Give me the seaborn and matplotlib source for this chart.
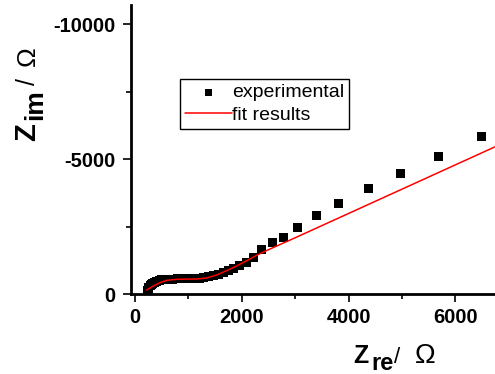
import pandas as pd
import matplotlib
matplotlib.use('Agg')
import matplotlib.pyplot as plt
import seaborn as sns
from matplotlib.ticker import MultipleLocator

# experimental impedance points (ohm)
exp_re = [230, 245, 262, 282, 305, 332, 365, 405, 450, 500, 560, 630, 710, 800,
          900, 1000, 1100, 1200, 1290, 1380, 1470, 1560, 1650, 1750, 1850, 1960,
          2080, 2210, 2378, 2584, 2772, 3034, 3390, 3820, 4382, 4981, 5693, 6498]
exp_im = [-130, -190, -245, -300, -350, -395, -435, -470, -500, -522, -540, -550,
          -555, -558, -560, -562, -570, -585, -610, -645, -690, -740, -800, -870,
          -950, -1050, -1180, -1370, -1630, -1889, -2111, -2481, -2889, -3370,
          -3926, -4481, -5111, -5815]

# fit curve
fit_re = [218, 343, 468, 593, 780, 968, 1155, 1342, 1530, 1717, 1904, 2092,
          2279, 2466, 3000, 4000, 5000, 6000, 6900]
fit_im = [-148, -296, -420, -506, -543, -552, -555, -593, -704, -864, -1037,
          -1235, -1432, -1610, -2083, -2983, -3883, -4783, -5593]

sns.set_style('ticks')
plt.rcParams['font.family'] = ['Liberation Sans', 'DejaVu Sans']
plt.rcParams.update({'text.color': 'black', 'axes.labelcolor': 'black',
                     'xtick.color': 'black', 'ytick.color': 'black',
                     'axes.edgecolor': 'black', 'axes.unicode_minus': False})

W, H = 495, 374
fig = plt.figure(figsize=(W / 100, H / 100), dpi=100)
ax = fig.add_axes([131 / W, (H - 294) / H, (W - 131) / W, (294 - 5) / H])

exp_df = pd.DataFrame({'Zre': exp_re, 'Zim': exp_im})
fit_df = pd.DataFrame({'Zre': fit_re, 'Zim': fit_im})

sns.scatterplot(data=exp_df, x='Zre', y='Zim', marker='s', s=42, color='black',
                edgecolor='none', ax=ax, label='experimental', zorder=2)
sns.lineplot(data=fit_df, x='Zre', y='Zim', color='red', lw=1.1, ax=ax,
             label='fit results', sort=False, zorder=3)

ax.set_xlim(-75, 6742)
ax.set_ylim(0, -10704)
ax.xaxis.set_major_locator(MultipleLocator(2000))
ax.xaxis.set_minor_locator(MultipleLocator(1000))
ax.yaxis.set_major_locator(MultipleLocator(5000))
ax.yaxis.set_minor_locator(MultipleLocator(2500))
ax.set_xlabel('')
ax.set_ylabel('')

for s in ['top', 'right']:
    ax.spines[s].set_visible(False)
for s in ['left', 'bottom']:
    ax.spines[s].set_linewidth(2)
ax.tick_params(which='major', direction='out', length=6, width=1.2, labelsize=14.5)
ax.tick_params(which='minor', direction='out', length=3.5, width=1.2)
ax.tick_params(axis='y', pad=5.5)
ax.tick_params(axis='x', pad=4)
for lab in ax.get_xticklabels() + ax.get_yticklabels():
    lab.set_fontweight('bold')

leg = ax.legend(loc='upper left', bbox_to_anchor=(180 / W, 1 - 79 / H),
                bbox_transform=fig.transFigure, borderaxespad=0, fontsize=14,
                frameon=True, fancybox=False, framealpha=1, edgecolor='black',
                handlelength=2.4, handletextpad=0.05, labelspacing=0.25,
                borderpad=0.25, markerscale=0.8)
leg.get_frame().set_linewidth(1)


def fpos(px, py):
    return px / W, 1 - py / H


# x axis label  Z_re / Ω
fig.text(*fpos(353, 363), 'Z', fontsize=18, fontweight='bold', ha='left', va='baseline')
fig.text(*fpos(371, 370), 're', fontsize=17, fontweight='bold', ha='left', va='baseline')
fig.text(*fpos(394, 363), '/', fontsize=16, ha='left', va='baseline')
fig.text(*fpos(415, 363), 'Ω', fontsize=20, ha='left', va='baseline')

# y axis label  Z_im / Ω (rotated)
rot = dict(rotation=90, rotation_mode='anchor', ha='left', va='baseline')
fig.text(*fpos(35, 141), 'Z', fontsize=21, fontweight='bold', **rot)
fig.text(*fpos(42, 120), 'im', fontsize=19, fontweight='bold', **rot)
fig.text(*fpos(35, 85), '/', fontsize=18, **rot)
fig.text(*fpos(35, 66), 'Ω', fontsize=19, **rot)

fig.savefig('out.png', dpi=100)
